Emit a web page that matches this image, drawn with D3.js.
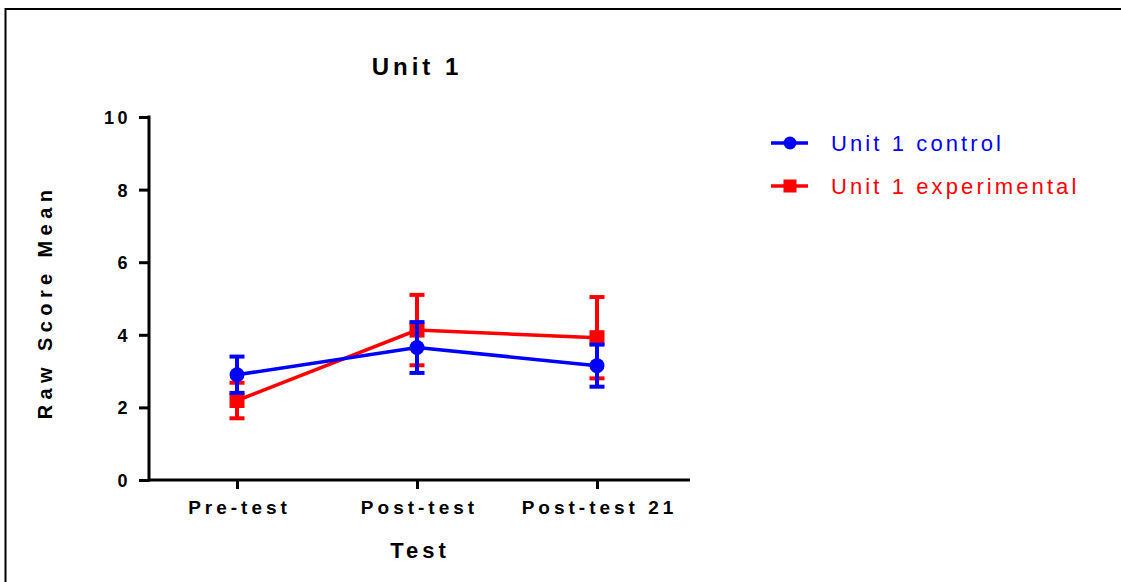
<!DOCTYPE html>
<html>
<head>
<meta charset="utf-8">
<script src="https://cdn.jsdelivr.net/npm/d3@7"></script>
<style>
  html, body { margin: 0; padding: 0; background: #fff; }
  svg { display: block; }
  text { font-family: "Liberation Sans", Arial, sans-serif; }
</style>
</head>
<body>
<script>
const categories = ["Pre-test", "Post-test", "Post-test 21"];
const controlMean = [2.90, 3.65, 3.15];
const controlErr = [0.50, 0.70, 0.58];
const experimentalMean = [2.19, 4.13, 3.92];
const experimentalErr = [0.49, 0.97, 1.12];
const yTicks = [0, 2, 4, 6, 8, 10];
const seriesNames = ["Unit 1 control", "Unit 1 experimental"];
const seriesColors = ["#0000ff", "#ff0000"];

const W = 1121, H = 582;
const svg = d3.select("body").append("svg").attr("width", W).attr("height", H);

// frame
svg.append("path").attr("d", `M5.5,${H} L5.5,9 L${W},9`).attr("fill", "none")
  .attr("stroke", "#000").attr("stroke-width", 2);

const x = d3.scalePoint().domain(categories).range([237, 597]).padding(0);
const y = d3.scaleLinear().domain([0, 10]).range([480, 117]);

// Y axis
const yAxis = svg.append("g").attr("transform", "translate(149,0)")
  .call(d3.axisLeft(y).tickValues(yTicks).tickSize(10).tickPadding(8).tickFormat(d3.format("d")));
yAxis.select(".domain").attr("stroke-width", 3).attr("d", `M0,${y(10) - 1.5}V${y(0) + 1.5}`);
yAxis.selectAll(".tick line").attr("stroke-width", 3);
yAxis.selectAll(".tick text").attr("font-size", 18).attr("font-weight", "bold")
  .attr("letter-spacing", 3.5).attr("fill", "#000").attr("dy", "0.36em");

// X axis
const xAxis = svg.append("g").attr("transform", "translate(0,480)")
  .call(d3.axisBottom(x).tickSize(9).tickPadding(12));
xAxis.select(".domain").attr("stroke-width", 3).attr("d", `M149,0H690`);
xAxis.selectAll(".tick line").attr("stroke-width", 3);
xAxis.selectAll(".tick text").attr("font-size", 19).attr("font-weight", "bold")
  .attr("letter-spacing", 4).attr("dx", 2).attr("fill", "#000");

// Titles
svg.append("text").attr("x", 417).attr("y", 75).attr("text-anchor", "middle")
  .attr("font-size", 24).attr("font-weight", "bold").attr("letter-spacing", 4)
  .text("Unit 1");
svg.append("text").attr("x", 420).attr("y", 558).attr("text-anchor", "middle")
  .attr("font-size", 22).attr("font-weight", "bold").attr("letter-spacing", 4)
  .text("Test");
svg.append("text").attr("transform", "translate(52,302) rotate(-90)").attr("text-anchor", "middle")
  .attr("font-size", 20).attr("font-weight", "bold").attr("letter-spacing", 5.4)
  .text("Raw Score Mean");

const series = [
  { mean: experimentalMean, err: experimentalErr, color: seriesColors[1], shape: "square" },
  { mean: controlMean, err: controlErr, color: seriesColors[0], shape: "circle" }
];

const line = d3.line().x((d, i) => x(categories[i])).y(d => y(d));

series.forEach(s => {
  const g = svg.append("g");
  g.append("path").attr("d", line(s.mean)).attr("fill", "none")
    .attr("stroke", s.color).attr("stroke-width", 3.5);
  s.mean.forEach((m, i) => {
    const cx = x(categories[i]);
    const top = y(m + s.err[i]), bot = y(m - s.err[i]);
    g.append("line").attr("x1", cx).attr("x2", cx).attr("y1", top).attr("y2", bot)
      .attr("stroke", s.color).attr("stroke-width", 4);
    [top, bot].forEach(yy => g.append("line").attr("x1", cx - 7.5).attr("x2", cx + 7.5)
      .attr("y1", yy).attr("y2", yy).attr("stroke", s.color).attr("stroke-width", 4));
    if (s.shape === "circle") {
      g.append("circle").attr("cx", cx).attr("cy", y(m)).attr("r", 7.5).attr("fill", s.color);
    } else {
      g.append("rect").attr("x", cx - 7.5).attr("y", y(m) - 7.5).attr("width", 15).attr("height", 15)
        .attr("fill", s.color);
    }
  });
});

// Legend
const legendY = [143, 186];
seriesNames.forEach((name, i) => {
  const g = svg.append("g").attr("transform", `translate(0,${legendY[i]})`);
  g.append("line").attr("x1", 771).attr("x2", 808).attr("y1", 0).attr("y2", 0)
    .attr("stroke", seriesColors[i]).attr("stroke-width", 3.5);
  if (i === 0) {
    g.append("circle").attr("cx", 790).attr("cy", 0).attr("r", 6.5).attr("fill", seriesColors[i]);
  } else {
    g.append("rect").attr("x", 783.5).attr("y", -6.5).attr("width", 13).attr("height", 13)
      .attr("fill", seriesColors[i]);
  }
  g.append("text").attr("x", 831).attr("y", 0).attr("dy", "0.36em")
    .attr("font-size", 22).attr("letter-spacing", 3.1).attr("fill", seriesColors[i])
    .text(name);
});
</script>
</body>
</html>
